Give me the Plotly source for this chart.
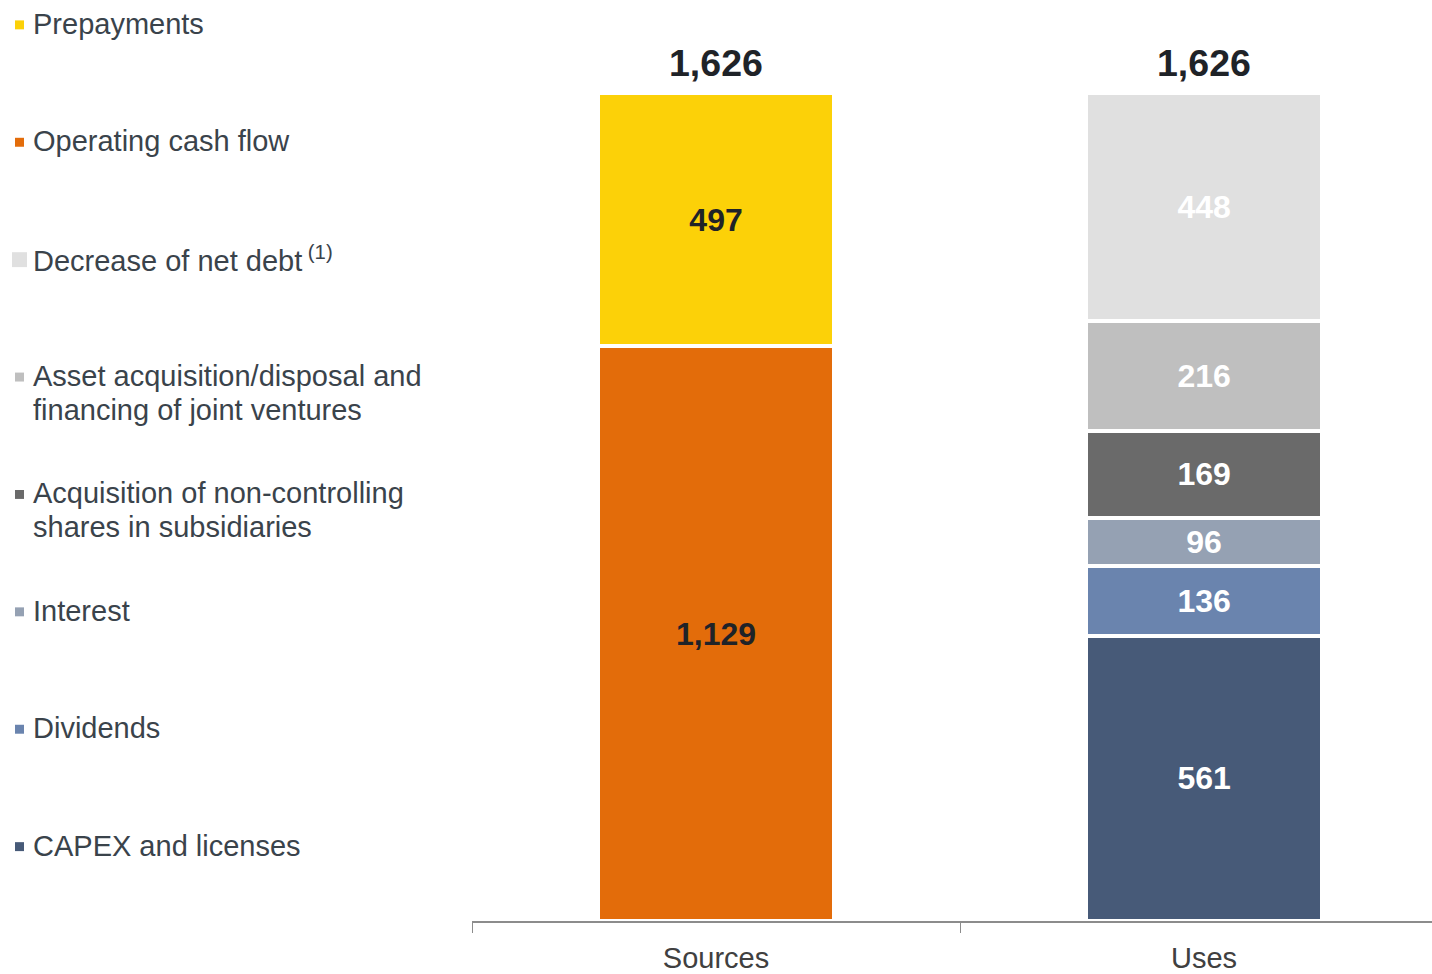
import plotly.graph_objects as go

W, H = 1432, 974

categories = ["Sources", "Uses"]
series_names = [
    "CAPEX and licenses",
    "Dividends",
    "Interest",
    "Acquisition of non-controlling shares in subsidiaries",
    "Asset acquisition/disposal and financing of joint ventures",
    "Decrease of net debt",
    "Operating cash flow",
    "Prepayments",
]
sources_values = [None, None, None, None, None, None, 1129, 497]
uses_values = [561, 136, 96, 169, 216, 448, None, None]
totals = [1626, 1626]
colors = ["#475a78", "#6a84ae", "#95a1b3", "#6a6a6a", "#bfbfbf", "#e0e0e0", "#e36c0a", "#fcd108"]

# legend text lines, top to bottom (reverse of stacking order)
legend_lines = [
    ["Prepayments"],
    ["Operating cash flow"],
    ["Decrease of net debt<sup> (1)</sup>"],
    ["Asset acquisition/disposal and", "financing of joint ventures"],
    ["Acquisition of non-controlling", "shares in subsidiaries"],
    ["Interest"],
    ["Dividends"],
    ["CAPEX and licenses"],
]

FONT = "Liberation Sans, Arial, sans-serif"
TEXT_DARK = "#3a434b"


def px(x):
    return x / W


def py(y):
    return 1 - y / H


fig = go.Figure()
for name, s, u, c in zip(series_names, sources_values, uses_values, colors):
    vals = [s, u]
    txtcol = ["#1f2328", "#ffffff"]
    fig.add_trace(go.Bar(
        name=name,
        x=categories,
        y=vals,
        width=0.484,
        marker=dict(color=c, line=dict(color="white", width=4)),
        texttemplate="%{y:,}",
        textposition="inside",
        insidetextanchor="middle",
        textangle=0,
        textfont=dict(family=FONT, size=32, color=txtcol, weight="bold"),
        showlegend=False,
        hoverinfo="name+y",
    ))

# totals above bars
for cat, t in zip(categories, totals):
    fig.add_annotation(
        x=cat, y=t, xref="x", yref="y",
        text=f"<b>{t:,}</b>", showarrow=False,
        yanchor="middle", yshift=30,
        font=dict(family=FONT, size=37.5, color="#1f2328"),
    )

# custom legend
first_center = 24
step = 118
line_gap = 34
legend_colors = colors[::-1]
for i, (lines, col) in enumerate(zip(legend_lines, legend_colors)):
    yc = first_center + step * i
    for k, line in enumerate(lines):
        fig.add_annotation(
            x=px(31), y=py(yc + k * line_gap), xref="paper", yref="paper",
            text=line, showarrow=False, xanchor="left", yanchor="middle",
            font=dict(family=FONT, size=29, color=TEXT_DARK),
        )
    sz = 15 if i == 2 else 9
    cx = 19.5
    cy = yc + 1
    fig.add_shape(
        type="rect", xref="paper", yref="paper",
        x0=px(cx - sz / 2), x1=px(cx + sz / 2),
        y0=py(cy + sz / 2), y1=py(cy - sz / 2),
        fillcolor=col, line=dict(width=0),
    )

fig.update_layout(
    width=W, height=H,
    barmode="stack",
    margin=dict(l=0, r=0, t=0, b=0),
    paper_bgcolor="white",
    plot_bgcolor="white",
    showlegend=False,
    xaxis=dict(
        domain=[px(472), 1],
        type="category",
        categoryorder="array",
        categoryarray=categories,
        range=[-0.5, 1.467],
        showline=True, linecolor="#8c8c8c", linewidth=2,
        ticks="outside", tickson="boundaries", ticklen=10, tickwidth=1, tickcolor="#8c8c8c",
        ticklabelstandoff=10,
        tickfont=dict(family=FONT, size=29, color="#404040"),
        showgrid=False, zeroline=False,
    ),
    yaxis=dict(
        domain=[py(926), py(56)],
        range=[0, 1700],
        visible=False,
        showgrid=False, zeroline=False,
    ),
)

# remove the browser's default 8px page margin so the figure fills the window exactly
fig.write_html(
    "out.html",
    config={"displayModeBar": False},
    post_script="document.body.style.margin='0';document.body.style.overflow='hidden';",
)
